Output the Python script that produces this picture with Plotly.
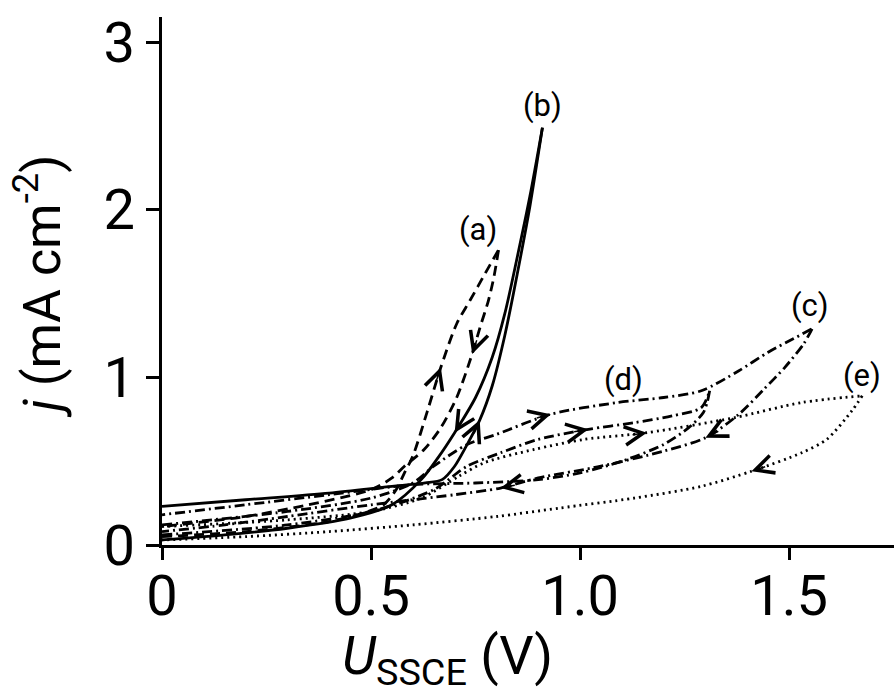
import math
import plotly.graph_objects as go

# ---- data ----
a_fwd_x = [0, 0.2, 0.4, 0.48, 0.53, 0.56, 0.58, 0.60, 0.635, 0.667, 0.705, 0.737, 0.773, 0.805]
a_fwd_y = [0.05, 0.08, 0.14, 0.19, 0.24, 0.33, 0.43, 0.53, 0.80, 1.06, 1.32, 1.46, 1.62, 1.76]
a_ret_x = [0.805, 0.794, 0.781, 0.761, 0.742, 0.705, 0.667, 0.627, 0.58, 0.55, 0.5, 0.35, 0.2, 0]
a_ret_y = [1.76, 1.6, 1.46, 1.30, 1.14, 0.88, 0.70, 0.57, 0.47, 0.40, 0.33, 0.24, 0.17, 0.11]

b_fwd_x = [0, 0.2, 0.4, 0.55, 0.63, 0.67, 0.70, 0.73, 0.76, 0.79, 0.82, 0.85, 0.88, 0.91]
b_fwd_y = [0.23, 0.27, 0.31, 0.35, 0.37, 0.39, 0.47, 0.60, 0.745, 0.95, 1.25, 1.62, 2.02, 2.49]
b_ret_x = [0.91, 0.88, 0.85, 0.82, 0.79, 0.75, 0.70, 0.66, 0.62, 0.55, 0.45, 0.3, 0.15, 0]
b_ret_y = [2.49, 2.08, 1.72, 1.38, 1.12, 0.88, 0.67, 0.52, 0.39, 0.24, 0.16, 0.10, 0.06, 0.03]

c_fwd_x = [0, 0.3, 0.5, 0.6, 0.65, 0.73, 0.8, 0.93, 1.09, 1.2, 1.29, 1.38, 1.45, 1.51, 1.555]
c_fwd_y = [0.12, 0.2, 0.28, 0.37, 0.47, 0.60, 0.66, 0.78, 0.85, 0.88, 0.92, 1.04, 1.15, 1.23, 1.29]
c_ret_x = [1.555, 1.535, 1.49, 1.44, 1.38, 1.30, 1.2, 1.05, 0.9, 0.81, 0.7, 0.5, 0.3, 0.15, 0]
c_ret_y = [1.29, 1.20, 1.06, 0.93, 0.78, 0.64, 0.56, 0.47, 0.40, 0.34, 0.30, 0.24, 0.17, 0.12, 0.08]

d_fwd_x = [0, 0.3, 0.5, 0.65, 0.73, 0.81, 0.9, 1.02, 1.13, 1.22, 1.29, 1.31]
d_fwd_y = [0.06, 0.12, 0.2, 0.33, 0.47, 0.55, 0.63, 0.69, 0.73, 0.77, 0.82, 0.92]
d_ret_x = [1.31, 1.305, 1.295, 1.26, 1.2, 1.1, 1.0, 0.9, 0.75, 0.6, 0.4, 0.2, 0]
d_ret_y = [0.92, 0.86, 0.79, 0.70, 0.60, 0.50, 0.43, 0.39, 0.37, 0.36, 0.30, 0.24, 0.18]

e_fwd_x = [0, 0.3, 0.5, 0.62, 0.71, 0.77, 0.89, 1.01, 1.16, 1.37, 1.53, 1.675]
e_fwd_y = [0.11, 0.15, 0.2, 0.28, 0.41, 0.49, 0.57, 0.63, 0.67, 0.76, 0.85, 0.89]
e_ret_x = [1.675, 1.65, 1.59, 1.53, 1.41, 1.29, 1.13, 0.95, 0.8, 0.6, 0.4, 0.2, 0]
e_ret_y = [0.89, 0.80, 0.63, 0.55, 0.44, 0.35, 0.28, 0.22, 0.17, 0.12, 0.08, 0.05, 0.03]

curve_labels = ["(a)", "(b)", "(c)", "(d)", "(e)"]
label_x = [0.755, 0.91, 1.55, 1.103, 1.675]
label_y = [1.88, 2.62, 1.43, 0.99, 1.01]

x_tick_vals = [0, 0.5, 1.0, 1.5]
x_tick_text = ["0", "0.5", "1.0", "1.5"]
y_tick_vals = [0, 1, 2, 3]
y_tick_text = ["0", "1", "2", "3"]

# ---- styles ----
FONT = "Roboto, Liberation Sans, sans-serif"
LW = 2.8
dash_a = "10px,6px"
dash_cd = "10px,4px,2px,4px"
dash_e = "2px,4px"

curves = {
    "a_fwd": (a_fwd_x, a_fwd_y, dash_a),
    "a_ret": (a_ret_x, a_ret_y, dash_a),
    "b_fwd": (b_fwd_x, b_fwd_y, "solid"),
    "b_ret": (b_ret_x, b_ret_y, "solid"),
    "c_fwd": (c_fwd_x, c_fwd_y, dash_cd),
    "c_ret": (c_ret_x, c_ret_y, dash_cd),
    "d_fwd": (d_fwd_x, d_fwd_y, dash_cd),
    "d_ret": (d_ret_x, d_ret_y, dash_cd),
    "e_fwd": (e_fwd_x, e_fwd_y, dash_e),
    "e_ret": (e_ret_x, e_ret_y, dash_e),
}

fig = go.Figure()
for name, (xs, ys, dash) in curves.items():
    fig.add_trace(go.Scatter(x=xs, y=ys, mode="lines", name=name,
                             line=dict(color="black", width=LW, dash=dash, shape="spline", smoothing=0.8),
                             showlegend=False, hoverinfo="skip"))

# arrows placed on curve points (curve, index)
arrows = [("a_fwd", 9), ("a_ret", 4), ("b_fwd", 8), ("b_ret", 6), ("c_fwd", 7),
          ("d_fwd", 7), ("e_fwd", 8), ("c_ret", 5), ("c_ret", 9), ("e_ret", 4)]

W, H = 894, 697
ML, MR, MT, MB = 162, 0, 17, 152
XR = [0, 1.751]
YR = [0, 3.15]
sx = (W - ML - MR) / (XR[1] - XR[0])
sy = (H - MT - MB) / (YR[1] - YR[0])

annotations = []
for cname, i in arrows:
    xs, ys, _ = curves[cname]
    dx = (xs[i + 1] - xs[i - 1]) * sx
    dy = -(ys[i + 1] - ys[i - 1]) * sy
    n = math.hypot(dx, dy)
    ux, uy = dx / n, dy / n
    annotations.append(dict(x=xs[i], y=ys[i], xref="x", yref="y", text="",
                            showarrow=True, arrowhead=5, arrowsize=2.4, arrowwidth=1.5,
                            arrowcolor="black", ax=-ux * 16, ay=-uy * 16, standoff=0))

for t, lx, ly in zip(curve_labels, label_x, label_y):
    annotations.append(dict(x=lx, y=ly, xref="x", yref="y", text=t, showarrow=False,
                            xanchor="center", yanchor="middle",
                            font=dict(family=FONT, size=31, color="black")))

# axis titles
annotations.append(dict(x=(38 - ML) / (W - ML - MR), y=0.49, xref="paper", yref="paper",
                        xanchor="center", yanchor="middle",
                        text="<i>j</i> (mA cm<sup>-2</sup>)", textangle=-90, showarrow=False,
                        font=dict(family=FONT, size=52, color="black")))
annotations.append(dict(x=(447 - ML) / (W - ML - MR), y=-0.215, xref="paper", yref="paper",
                        xanchor="center", yanchor="middle",
                        text="<i>U</i><sub>SSCE</sub> (V)", showarrow=False,
                        font=dict(family=FONT, size=54, color="black")))

fig.update_layout(
    width=W, height=H,
    margin=dict(l=ML, r=MR, t=MT, b=MB),
    paper_bgcolor="white", plot_bgcolor="white",
    annotations=annotations,
    font=dict(family=FONT, color="black"),
)
fig.update_xaxes(range=XR, showgrid=False, zeroline=False, showline=True, linecolor="black",
                 linewidth=2.5, ticks="outside", ticklen=12, tickwidth=2.5, tickcolor="black",
                 tickvals=x_tick_vals, ticktext=x_tick_text, ticklabelstandoff=-12,
                 tickfont=dict(family=FONT, size=56, color="black"))
fig.update_yaxes(range=YR, showgrid=False, zeroline=False, showline=True, linecolor="black",
                 linewidth=2.5, ticks="outside", ticklen=13, tickwidth=2.5, tickcolor="black",
                 tickvals=y_tick_vals, ticktext=y_tick_text,
                 tickfont=dict(family=FONT, size=56, color="black"))

fig.write_html("out.html")
